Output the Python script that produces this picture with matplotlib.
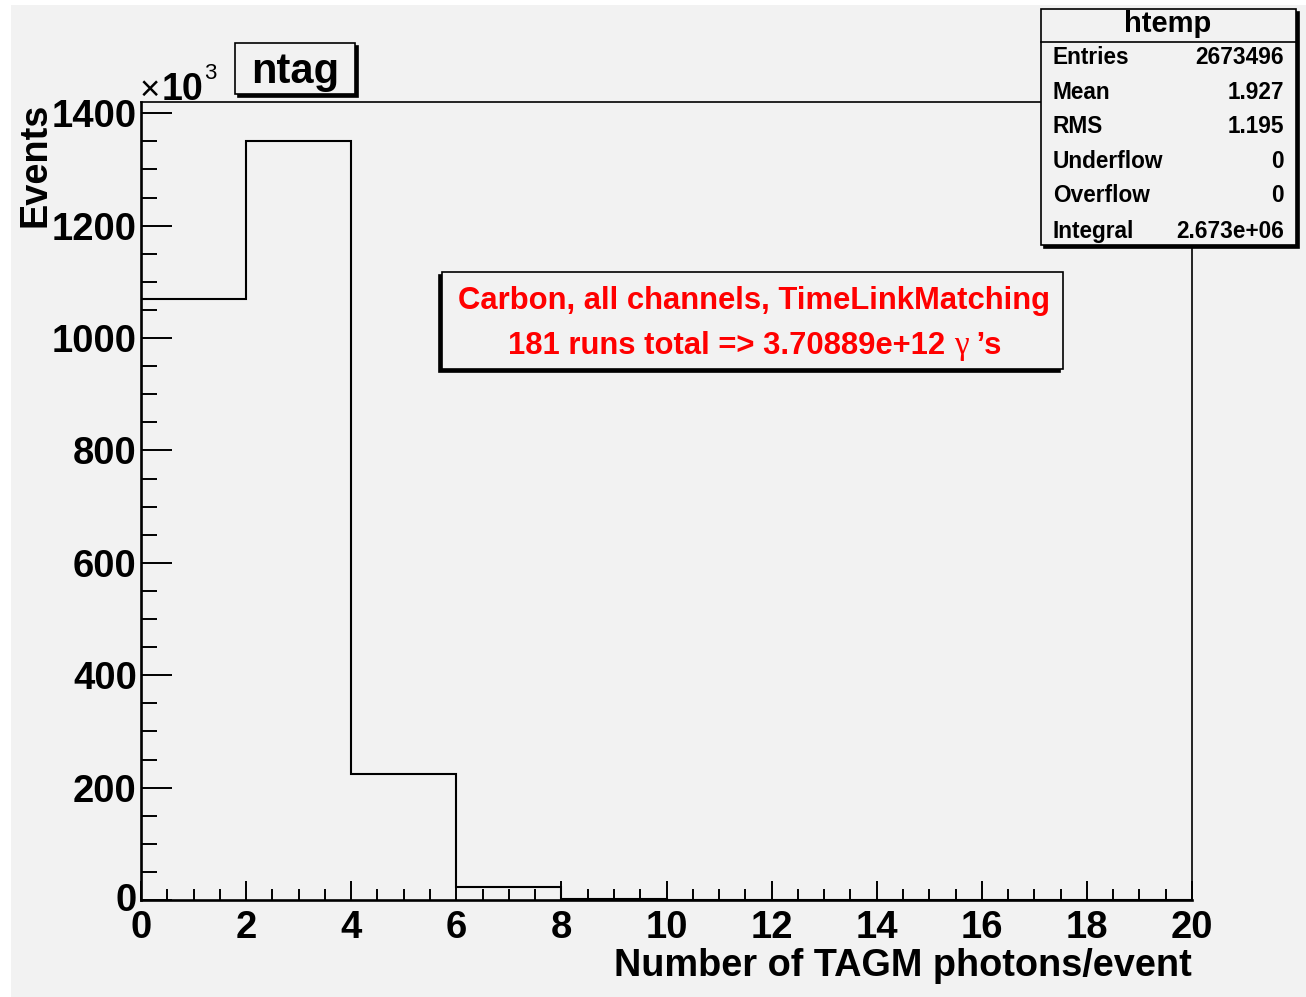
import matplotlib
matplotlib.use("Agg")
import matplotlib.pyplot as plt
from matplotlib.patches import Rectangle
from matplotlib.lines import Line2D
from matplotlib.ticker import MultipleLocator
from matplotlib.transforms import ScaledTranslation
import numpy as np

# ---- data ----
bin_edges = [0, 2, 4, 6, 8, 10, 12, 14, 16, 18, 20]
bin_counts = [1069000, 1350000, 224000, 23000, 2000, 0, 0, 0, 0, 0]
x_ticks = [0, 2, 4, 6, 8, 10, 12, 14, 16, 18, 20]
y_ticks = [0, 200, 400, 600, 800, 1000, 1200, 1400]  # x10^3
stats_labels = ["Entries", "Mean", "RMS", "Underflow", "Overflow", "Integral"]
stats_values = ["2673496", "1.927", "1.195", "0", "0", "2.673e+06"]
hist_name = "htemp"
title_text = "ntag"
x_label = "Number of TAGM photons/event"
y_label = "Events"
note_line1 = "Carbon, all channels, TimeLinkMatching"
note_line2_parts = ["181 runs total => 3.70889e+12 ", "\u03b3", " \u2019s"]

W, H = 1306, 997
BG = "#f2f2f2"
SANS = ["Liberation Sans", "DejaVu Sans"]
plt.rcParams["font.family"] = SANS
plt.rcParams["font.weight"] = "bold"

fig = plt.figure(figsize=(W / 100, H / 100), dpi=100)
fig.patch.set_facecolor("white")

def fx(x):
    return x / W

def fy(y):
    return 1 - y / H

# grey canvas
fig.add_artist(Rectangle((fx(11), 0), 1 - fx(11), fy(5), transform=fig.transFigure,
                         facecolor=BG, edgecolor="none", zorder=-10))

ax = fig.add_axes([fx(141), fy(900), fx(1192) - fx(141), fy(102) - fy(900)])
ax.set_facecolor(BG)
vals = np.array(bin_counts) / 1e3
ax.stairs(vals, bin_edges, color="black", linewidth=1.5, baseline=0)
ax.set_xlim(0, 20)
ax.set_ylim(0, 1420)
ax.set_xticks(x_ticks)
ax.set_yticks(y_ticks)
ax.xaxis.set_minor_locator(MultipleLocator(0.5))
ax.yaxis.set_minor_locator(MultipleLocator(50))
ax.tick_params(axis="both", which="both", direction="in", width=1.4, colors="black")
ax.tick_params(axis="x", which="major", length=14, pad=7.5, labelsize=27.5)
ax.tick_params(axis="x", which="minor", length=8)
ax.tick_params(axis="y", which="major", length=22, pad=3, labelsize=27.5)
ax.tick_params(axis="y", which="minor", length=11.5)
for lab in ax.get_xticklabels() + ax.get_yticklabels():
    lab.set_fontweight("bold")
# nudge the y "0" label up a little, as in the reference
ylabs = ax.get_yticklabels()
ylabs[0].set_transform(ylabs[0].get_transform() + ScaledTranslation(0, 3 / 100, fig.dpi_scale_trans))
for s in ["left", "bottom"]:
    ax.spines[s].set_linewidth(1.9)
for s in ["top", "right"]:
    ax.spines[s].set_linewidth(1.2)

# axis labels
fig.text(fx(1192), fy(976), x_label, ha="right", va="baseline", fontsize=27.3, fontweight="bold")
fig.text(fx(36), fy(103), y_label, ha="center", va="top", rotation=90, fontsize=27.3, fontweight="bold")
fig.text(fx(140), fy(100), "\u00d7", ha="left", va="baseline", fontsize=25, fontweight="normal")
fig.text(fx(162), fy(100), "10", ha="left", va="baseline", fontsize=27, fontweight="bold")
fig.text(fx(204), fy(79), "3", ha="left", va="baseline", fontsize=16, fontweight="normal")

def box(x0, y0, x1, y1, shadow=(3, 3), lw=1.2):
    sx, sy = shadow
    fig.add_artist(Rectangle((fx(x0 + sx), fy(y1 + sy)), fx(x1) - fx(x0), fy(y0) - fy(y1),
                             transform=fig.transFigure, facecolor="black", edgecolor="black",
                             linewidth=lw, zorder=5))
    fig.add_artist(Rectangle((fx(x0), fy(y1)), fx(x1) - fx(x0), fy(y0) - fy(y1),
                             transform=fig.transFigure, facecolor=BG, edgecolor="black",
                             linewidth=lw, zorder=6))

# title box
box(235, 43, 355, 94)
fig.text(fx(295), fy(83), title_text, ha="center", va="baseline", fontsize=30,
         fontweight="bold", zorder=7)

# stats box
box(1041, 9, 1296, 245)
fig.add_artist(Line2D([fx(1041), fx(1296)], [fy(42), fy(42)], transform=fig.transFigure,
                      color="black", linewidth=1.2, zorder=7))
fig.text(fx(1168), fy(32), hist_name, ha="center", va="baseline", fontsize=21,
         fontweight="bold", zorder=7)
row_y = [64, 99, 133, 168, 202, 238]
for lab, val, yy in zip(stats_labels, stats_values, row_y):
    fig.text(fx(1053), fy(yy), lab, ha="left", va="baseline", fontsize=16.3,
             fontweight="bold", zorder=7)
    fig.text(fx(1284), fy(yy), val, ha="right", va="baseline", fontsize=16.3,
             fontweight="bold", zorder=7)

# red note box
box(442, 272, 1063, 369, shadow=(-3, 3))
fig.text(fx(754), fy(309), note_line1, ha="center", va="baseline", fontsize=22.3,
         fontweight="bold", color="red", zorder=7)

fig.canvas.draw()
renderer = fig.canvas.get_renderer()
fams = [SANS, ["Liberation Serif", "DejaVu Serif"], SANS]
weights = ["bold", "normal", "bold"]
sizes = [22.3, 24, 22.3]
texts = []
for part, fam, wt, sz in zip(note_line2_parts, fams, weights, sizes):
    t = fig.text(0, fy(354), part, ha="left", va="baseline", fontsize=sz, family=fam,
                 fontweight=wt, color="red", zorder=7)
    texts.append(t)
widths = [t.get_window_extent(renderer).width for t in texts]
total = sum(widths)
xpix = 755 - total / 2
for t, w in zip(texts, widths):
    t.set_x(fx(xpix))
    xpix += w

fig.savefig("out.png", dpi=100, facecolor=fig.get_facecolor())
